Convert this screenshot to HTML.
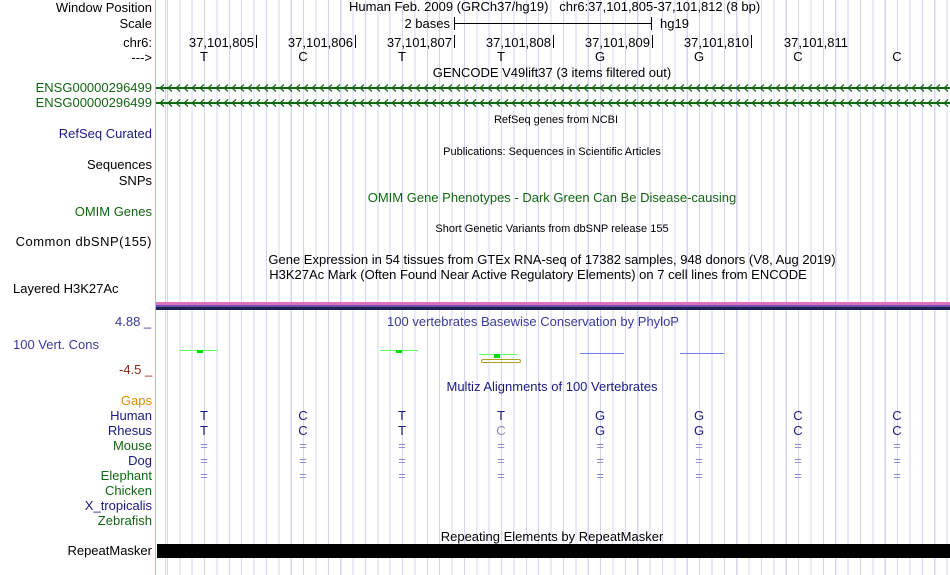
<!DOCTYPE html>
<html><head><style>
body{margin:0;width:950px;height:575px;background:#fff;position:relative;overflow:hidden;font-family:"Liberation Sans",sans-serif;font-size:13px;}
.g{position:absolute;left:156px;top:0;width:794px;height:575px;background:repeating-linear-gradient(90deg,#d4d4f0 0,#d4d4f0 1px,transparent 1px,transparent 12.375px);background-position:11px 0;}
.t{position:absolute;white-space:nowrap;line-height:14px;}
.l{position:absolute;right:798px;white-space:nowrap;line-height:14px;text-align:right;}
.c{position:absolute;white-space:nowrap;line-height:14px;transform:translateX(-50%);}
.s{font-size:11px;}
.k{position:absolute;white-space:nowrap;line-height:14px;}
</style></head><body>
<div class="g"></div>
<div style="position:absolute;left:155px;top:0;width:1px;height:575px;background:#f4a0a0"></div>

<div class="l" style="top:1px">Window Position</div>
<div class="l" style="top:17px">Scale</div>
<div class="l" style="top:36px">chr6:</div>
<div class="l" style="top:51px">---&gt;</div>
<div class="l" style="top:81px;color:#116611">ENSG00000296499</div>
<div class="l" style="top:96px;color:#116611">ENSG00000296499</div>
<div class="l" style="top:127px;color:#1a1a80">RefSeq Curated</div>
<div class="l" style="top:158px">Sequences</div>
<div class="l" style="top:174px">SNPs</div>
<div class="l" style="top:205px;color:#116611">OMIM Genes</div>
<div class="l" style="top:235px;letter-spacing:0.5px">Common dbSNP(155)</div>
<div class="t" style="left:13px;top:282px">Layered H3K27Ac</div>
<div class="t" style="left:115px;top:315px;color:#3a3a9a">4.88 _</div>
<div class="t" style="left:13px;top:338px;color:#3a3a9a">100 Vert. Cons</div>
<div class="t" style="left:119px;top:363px;color:#8a2a1a">-4.5 _</div>
<div class="l" style="top:394px;color:#e08a00">Gaps</div>
<div class="l" style="top:409px;color:#1a1a80">Human</div>
<div class="l" style="top:424px;color:#1a1a80">Rhesus</div>
<div class="l" style="top:439px;color:#116611">Mouse</div>
<div class="l" style="top:454px;color:#1a1a80">Dog</div>
<div class="l" style="top:469px;color:#116611">Elephant</div>
<div class="l" style="top:484px;color:#116611">Chicken</div>
<div class="l" style="top:499px;color:#1a1a80">X_tropicalis</div>
<div class="l" style="top:514px;color:#116611">Zebrafish</div>
<div class="l" style="top:544px">RepeatMasker</div>

<div class="t" style="left:349px;top:0px">Human Feb. 2009 (GRCh37/hg19) &nbsp; chr6:37,101,805-37,101,812 (8 bp)</div>
<div class="k" style="right:500px;top:17px">2 bases</div>
<div style="position:absolute;left:454px;top:17px;width:1px;height:13px;background:#000"></div>
<div style="position:absolute;left:454px;top:23px;width:198px;height:1px;background:#000"></div>
<div style="position:absolute;left:651px;top:17px;width:1px;height:13px;background:#000"></div>
<div class="t" style="left:660px;top:17px">hg19</div>

<div class="k" style="right:696px;top:36px">37,101,805</div>
<div class="k" style="right:597px;top:36px">37,101,806</div>
<div class="k" style="right:498px;top:36px">37,101,807</div>
<div class="k" style="right:399px;top:36px">37,101,808</div>
<div class="k" style="right:300px;top:36px">37,101,809</div>
<div class="k" style="right:201px;top:36px">37,101,810</div>
<div class="k" style="right:102px;top:36px">37,101,811</div>
<div style="position:absolute;left:256px;top:35px;width:1px;height:13px;background:#000"></div>
<div style="position:absolute;left:355px;top:35px;width:1px;height:13px;background:#000"></div>
<div style="position:absolute;left:454px;top:35px;width:1px;height:13px;background:#000"></div>
<div style="position:absolute;left:553px;top:35px;width:1px;height:13px;background:#000"></div>
<div style="position:absolute;left:652px;top:35px;width:1px;height:13px;background:#000"></div>
<div style="position:absolute;left:751px;top:35px;width:1px;height:13px;background:#000"></div>

<div class="c" style="left:204px;top:50px">T</div>
<div class="c" style="left:303px;top:50px">C</div>
<div class="c" style="left:402px;top:50px">T</div>
<div class="c" style="left:501px;top:50px">T</div>
<div class="c" style="left:600px;top:50px">G</div>
<div class="c" style="left:699px;top:50px">G</div>
<div class="c" style="left:798px;top:50px">C</div>
<div class="c" style="left:897px;top:50px">C</div>

<div class="c" style="left:552px;top:66px">GENCODE V49lift37 (3 items filtered out)</div>
<svg style="position:absolute;left:156px;top:80px" width="794" height="32">
<defs><pattern id="ar" x="2" y="0" width="8" height="32" patternUnits="userSpaceOnUse"><path d="M6 4.5 L2 8 L6 11.5 M6 19.5 L2 23 L6 26.5" stroke="#116611" fill="none" stroke-width="1.2"/></pattern></defs>
<rect x="0" y="0" width="794" height="32" fill="url(#ar)"/>
<rect x="0" y="7" width="794" height="2" fill="#116611"/>
<rect x="0" y="22" width="794" height="2" fill="#116611"/>
</svg>
<div class="c s" style="left:556px;top:113px">RefSeq genes from NCBI</div>
<div class="c s" style="left:552px;top:145px">Publications: Sequences in Scientific Articles</div>
<div class="c" style="left:552px;top:191px;color:#116611">OMIM Gene Phenotypes - Dark Green Can Be Disease-causing</div>
<div class="c s" style="left:552px;top:222px">Short Genetic Variants from dbSNP release 155</div>
<div class="c" style="left:552px;top:253px">Gene Expression in 54 tissues from GTEx RNA-seq of 17382 samples, 948 donors (V8, Aug 2019)</div>
<div class="c" style="left:538px;top:268px">H3K27Ac Mark (Often Found Near Active Regulatory Elements) on 7 cell lines from ENCODE</div>
<div style="position:absolute;left:156px;top:302px;width:794px;height:3px;background:#e070c0"></div>
<div style="position:absolute;left:156px;top:305px;width:794px;height:2px;background:#7050b0"></div>
<div style="position:absolute;left:156px;top:307px;width:794px;height:3px;background:#202050"></div>
<div class="c" style="left:533px;top:315px;color:#3a3a9a">100 vertebrates Basewise Conservation by PhyloP</div>
<div style="position:absolute;left:180px;top:350px;width:38px;height:1px;background:#60ff60"></div>
<div style="position:absolute;left:197px;top:350px;width:6px;height:3px;background:#00e000"></div>
<div style="position:absolute;left:380px;top:350px;width:38px;height:1px;background:#60ff60"></div>
<div style="position:absolute;left:396px;top:350px;width:6px;height:3px;background:#00e000"></div>
<div style="position:absolute;left:479px;top:354px;width:38px;height:1px;background:#60ff60"></div>
<div style="position:absolute;left:494px;top:354px;width:6px;height:4px;background:#00e000"></div>
<div style="position:absolute;left:481px;top:359px;width:38px;height:2px;border:1px solid #b0a020;border-radius:3px"></div>
<div style="position:absolute;left:580px;top:353px;width:44px;height:1px;background:#7080e8"></div>
<div style="position:absolute;left:680px;top:353px;width:44px;height:1px;background:#7080e8"></div>
<div class="c" style="left:552px;top:380px;color:#1a1a80">Multiz Alignments of 100 Vertebrates</div>

<div class="c" style="left:204px;top:409px;color:#1a1a80">T</div><div class="c" style="left:303px;top:409px;color:#1a1a80">C</div><div class="c" style="left:402px;top:409px;color:#1a1a80">T</div><div class="c" style="left:501px;top:409px;color:#1a1a80">T</div><div class="c" style="left:600px;top:409px;color:#1a1a80">G</div><div class="c" style="left:699px;top:409px;color:#1a1a80">G</div><div class="c" style="left:798px;top:409px;color:#1a1a80">C</div><div class="c" style="left:897px;top:409px;color:#1a1a80">C</div>
<div class="c" style="left:204px;top:424px;color:#1a1a80">T</div><div class="c" style="left:303px;top:424px;color:#1a1a80">C</div><div class="c" style="left:402px;top:424px;color:#1a1a80">T</div><div class="c" style="left:501px;top:424px;color:#8888bb">C</div><div class="c" style="left:600px;top:424px;color:#1a1a80">G</div><div class="c" style="left:699px;top:424px;color:#1a1a80">G</div><div class="c" style="left:798px;top:424px;color:#1a1a80">C</div><div class="c" style="left:897px;top:424px;color:#1a1a80">C</div>
<div style="color:#8888cc">
<div class="c" style="left:204px;top:439px">=</div><div class="c" style="left:303px;top:439px">=</div><div class="c" style="left:402px;top:439px">=</div><div class="c" style="left:501px;top:439px">=</div><div class="c" style="left:600px;top:439px">=</div><div class="c" style="left:699px;top:439px">=</div><div class="c" style="left:798px;top:439px">=</div><div class="c" style="left:897px;top:439px">=</div>
<div class="c" style="left:204px;top:454px">=</div><div class="c" style="left:303px;top:454px">=</div><div class="c" style="left:402px;top:454px">=</div><div class="c" style="left:501px;top:454px">=</div><div class="c" style="left:600px;top:454px">=</div><div class="c" style="left:699px;top:454px">=</div><div class="c" style="left:798px;top:454px">=</div><div class="c" style="left:897px;top:454px">=</div>
<div class="c" style="left:204px;top:469px">=</div><div class="c" style="left:303px;top:469px">=</div><div class="c" style="left:402px;top:469px">=</div><div class="c" style="left:501px;top:469px">=</div><div class="c" style="left:600px;top:469px">=</div><div class="c" style="left:699px;top:469px">=</div><div class="c" style="left:798px;top:469px">=</div><div class="c" style="left:897px;top:469px">=</div>
</div>
<div class="c" style="left:552px;top:530px">Repeating Elements by RepeatMasker</div>
<div style="position:absolute;left:157px;top:544px;width:793px;height:14px;background:#000"></div>
</body></html>
